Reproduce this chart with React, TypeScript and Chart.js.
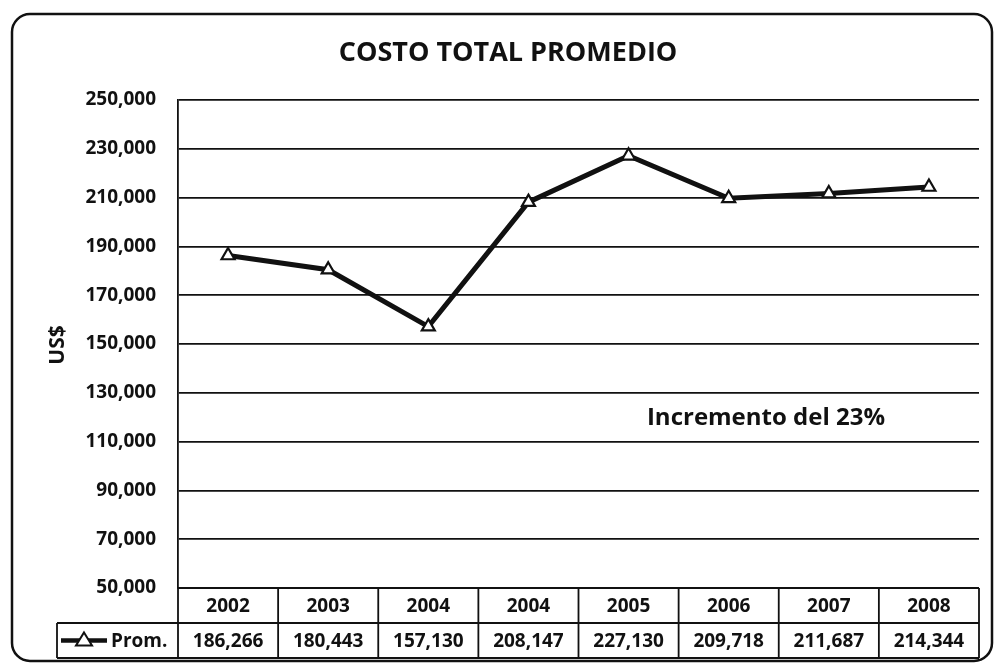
import React, { useEffect, useRef } from "react";
import { Chart, registerables } from "chart.js";

Chart.register(...registerables);

const TITLE = "COSTO TOTAL PROMEDIO";
const Y_TITLE = "US$";
const NOTE = "Incremento del 23%";
const SERIES_NAME = "Prom.";
const CATEGORIES = ["2002", "2003", "2004", "2004", "2005", "2006", "2007", "2008"];
const VALUES = [186266, 180443, 157130, 208147, 227130, 209718, 211687, 214344];
const Y_MIN = 50000;
const Y_MAX = 250000;
const Y_STEP = 20000;

const FONT = "'Open Sans', 'Liberation Sans', sans-serif";
const fmt = (v: number) => v.toLocaleString("en-US");

const decorPlugin = {
  id: "decor",
  afterDraw(chart: any) {
    const ctx = chart.ctx as CanvasRenderingContext2D;
    const area = chart.chartArea;
    const xs = chart.scales.x;
    const n = CATEGORIES.length;
    const colW = (area.right - area.left) / n;
    const rowH = 35;
    const t0 = area.bottom;
    const t1 = t0 + rowH;
    const t2 = t1 + rowH;
    const legL = 57;

    ctx.save();
    // outer frame
    ctx.strokeStyle = "#111";
    ctx.lineWidth = 2.5;
    ctx.beginPath();
    (ctx as any).roundRect(12, 14, 980, 647, 18);
    ctx.stroke();

    // title
    ctx.fillStyle = "#111";
    ctx.textAlign = "center";
    ctx.textBaseline = "middle";
    ctx.font = `bold 27px ${FONT}`;
    ctx.fillText(TITLE, 508, 53);

    // y title
    ctx.save();
    ctx.translate(58, 345);
    ctx.rotate(-Math.PI / 2);
    ctx.font = `bold 21px ${FONT}`;
    ctx.fillText(Y_TITLE, 0, 0);
    ctx.restore();

    // note
    ctx.font = `bold 24px ${FONT}`;
    ctx.fillText(NOTE, 766, 418);

    // data table
    ctx.strokeStyle = "#111";
    ctx.lineWidth = 1.8;
    ctx.beginPath();
    ctx.moveTo(area.left, t0);
    ctx.lineTo(area.right, t0);
    ctx.moveTo(legL, t1);
    ctx.lineTo(area.right, t1);
    ctx.moveTo(legL, t2);
    ctx.lineTo(area.right, t2);
    ctx.moveTo(legL, t1);
    ctx.lineTo(legL, t2);
    for (let i = 0; i <= n; i++) {
      const x = area.left + i * colW;
      ctx.moveTo(x, t0);
      ctx.lineTo(x, t2);
    }
    ctx.stroke();

    ctx.font = `bold 19px ${FONT}`;
    for (let i = 0; i < n; i++) {
      const cx = xs.getPixelForValue(i);
      ctx.fillText(CATEGORIES[i], cx, (t0 + t1) / 2 + 1);
      ctx.fillText(fmt(VALUES[i]), cx, (t1 + t2) / 2 + 1);
    }

    // legend key
    const ly = (t1 + t2) / 2;
    ctx.lineWidth = 4.5;
    ctx.beginPath();
    ctx.moveTo(61, ly);
    ctx.lineTo(107, ly);
    ctx.stroke();
    ctx.fillStyle = "#fff";
    ctx.lineWidth = 2;
    ctx.beginPath();
    ctx.moveTo(84, ly - 8);
    ctx.lineTo(92, ly + 5);
    ctx.lineTo(76, ly + 5);
    ctx.closePath();
    ctx.fill();
    ctx.stroke();
    ctx.fillStyle = "#111";
    ctx.textAlign = "left";
    ctx.fillText(SERIES_NAME, 111, ly + 1);
    ctx.restore();
  },
};

export default function App() {
  const ref = useRef<HTMLCanvasElement>(null);
  useEffect(() => {
    if (!ref.current) return;
    const chart = new Chart(ref.current, {
      type: "line",
      data: {
        labels: CATEGORIES.map((c, i) => `${c}#${i}`),
        datasets: [
          {
            label: SERIES_NAME,
            data: VALUES,
            borderColor: "#111",
            borderWidth: 5,
            pointStyle: "triangle",
            pointRadius: 7.5,
            pointBorderWidth: 2.2,
            pointBackgroundColor: "#fff",
            pointBorderColor: "#111",
            tension: 0,
          },
        ],
      },
      options: {
        animation: false,
        responsive: false,
        layout: { padding: { top: 100, right: 16, left: 0, bottom: 0 } },
        plugins: { legend: { display: false }, title: { display: false }, tooltip: { enabled: false } },
        scales: {
          x: {
            offset: true,
            grid: { display: false },
            border: { display: false },
            ticks: { display: false },
            afterFit: (s: any) => {
              s.height = 75;
            },
          },
          y: {
            min: Y_MIN,
            max: Y_MAX,
            grid: { color: "#111", lineWidth: 1.8, drawTicks: false },
            border: { display: true, color: "#111", width: 1.8 },
            ticks: {
              stepSize: Y_STEP,
              color: "#111",
              padding: 22,
              font: { family: FONT, weight: "bold", size: 19 },
              callback: (v: any) => fmt(Number(v)),
            },
            afterFit: (s: any) => {
              s.width = 178;
            },
          },
        },
      },
      plugins: [decorPlugin],
    });
    return () => chart.destroy();
  }, []);
  return (
    <div style={{ position: "fixed", left: 0, top: 0, width: 995, height: 663, background: "#fff" }}>
      <canvas ref={ref} width={995} height={663} />
    </div>
  );
}
